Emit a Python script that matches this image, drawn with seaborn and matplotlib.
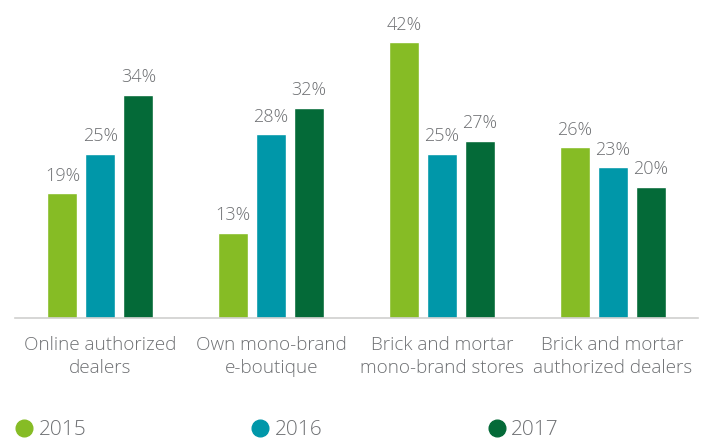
import seaborn as sns
import matplotlib.pyplot as plt
import pandas as pd
from matplotlib.lines import Line2D

categories = ["Online authorized\ndealers", "Own mono-brand\ne-boutique",
              "Brick and mortar\nmono-brand stores", "Brick and mortar\nauthorized dealers"]
years = ["2015", "2016", "2017"]
v2015 = [19, 13, 42, 26]
v2016 = [25, 28, 25, 23]
v2017 = [34, 32, 27, 20]

colors = ["#86BC25", "#0097A9", "#046A38"]
gray = "#6E7073"

df = pd.DataFrame({
    "category": categories * 3,
    "year": [y for y in years for _ in categories],
    "value": v2015 + v2016 + v2017,
})

sns.set_style("white")
plt.rcParams["font.family"] = ["Open Sans", "DejaVu Sans"]

fig = plt.figure(figsize=(7.12, 4.42), dpi=100)
ax = fig.add_axes([15 / 712, 1 - 318 / 442, 683 / 712, 318 / 442])

sns.barplot(data=df, x="category", y="value", hue="year", palette=colors,
            width=0.667, gap=0.21, ax=ax, legend=False, saturation=1)

for cont in ax.containers:
    ax.bar_label(cont, labels=[f"{int(v)}%" for v in cont.datavalues],
                 padding=6, fontsize=13, color=gray, fontweight="light")

ax.set_xlim(-0.5, 3.5)
ax.set_ylim(0, 48.4)
ax.set_xlabel("")
ax.set_ylabel("")
ax.set_yticks([])
for s in ["top", "right", "left"]:
    ax.spines[s].set_visible(False)
ax.spines["bottom"].set_color("#D0D0CE")
ax.spines["bottom"].set_linewidth(1.2)
ax.tick_params(axis="x", length=0, pad=13, labelsize=13.6, labelcolor=gray)
for t in ax.get_xticklabels():
    t.set_fontweight("light")
    t.set_linespacing(1.38)

handles = [Line2D([], [], marker="o", linestyle="", markersize=12,
                  markerfacecolor=c, markeredgecolor=c) for c in colors]
leg = fig.legend(handles, years, loc="center left", bbox_to_anchor=(-0.01, 0.027),
                 ncol=3, frameon=False, handletextpad=0.1, columnspacing=7.75,
                 prop={"size": 15, "weight": "light"}, labelcolor=gray,
                 handlelength=1.2)

fig.savefig("out.png", dpi=100)
